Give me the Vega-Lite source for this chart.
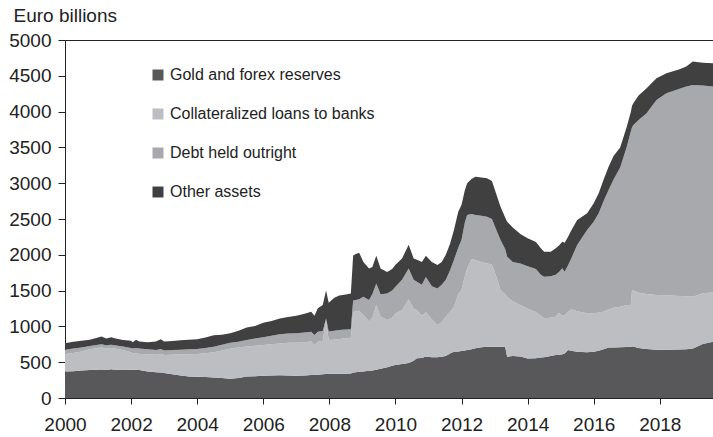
{
  "$schema": "https://vega.github.io/schema/vega-lite/v6.json",
  "width": 650,
  "height": 358,
  "autosize": {"type": "none"},
  "padding": {"left": 65, "top": 40, "right": 0, "bottom": 39},
  "data": {
    "values": [
      {"year": 2000.00, "Gold and forex reserves": 370, "Collateralized loans to banks": 245, "Debt held outright": 60, "Other assets": 90},
      {"year": 2000.25, "Gold and forex reserves": 375, "Collateralized loans to banks": 255, "Debt held outright": 60, "Other assets": 95},
      {"year": 2000.50, "Gold and forex reserves": 385, "Collateralized loans to banks": 265, "Debt held outright": 55, "Other assets": 95},
      {"year": 2000.75, "Gold and forex reserves": 390, "Collateralized loans to banks": 290, "Debt held outright": 45, "Other assets": 90},
      {"year": 2001.00, "Gold and forex reserves": 395, "Collateralized loans to banks": 305, "Debt held outright": 45, "Other assets": 100},
      {"year": 2001.10, "Gold and forex reserves": 398, "Collateralized loans to banks": 307, "Debt held outright": 45, "Other assets": 110},
      {"year": 2001.25, "Gold and forex reserves": 390, "Collateralized loans to banks": 300, "Debt held outright": 45, "Other assets": 95},
      {"year": 2001.40, "Gold and forex reserves": 400, "Collateralized loans to banks": 300, "Debt held outright": 45, "Other assets": 105},
      {"year": 2001.50, "Gold and forex reserves": 395, "Collateralized loans to banks": 295, "Debt held outright": 45, "Other assets": 100},
      {"year": 2001.75, "Gold and forex reserves": 392, "Collateralized loans to banks": 278, "Debt held outright": 50, "Other assets": 90},
      {"year": 2002.00, "Gold and forex reserves": 395, "Collateralized loans to banks": 245, "Debt held outright": 60, "Other assets": 100},
      {"year": 2002.05, "Gold and forex reserves": 395, "Collateralized loans to banks": 225, "Debt held outright": 70, "Other assets": 90},
      {"year": 2002.15, "Gold and forex reserves": 392, "Collateralized loans to banks": 238, "Debt held outright": 70, "Other assets": 115},
      {"year": 2002.25, "Gold and forex reserves": 390, "Collateralized loans to banks": 225, "Debt held outright": 75, "Other assets": 100},
      {"year": 2002.50, "Gold and forex reserves": 370, "Collateralized loans to banks": 240, "Debt held outright": 70, "Other assets": 100},
      {"year": 2002.75, "Gold and forex reserves": 360, "Collateralized loans to banks": 245, "Debt held outright": 65, "Other assets": 120},
      {"year": 2002.90, "Gold and forex reserves": 355, "Collateralized loans to banks": 260, "Debt held outright": 70, "Other assets": 135},
      {"year": 2003.00, "Gold and forex reserves": 350, "Collateralized loans to banks": 250, "Debt held outright": 65, "Other assets": 125},
      {"year": 2003.25, "Gold and forex reserves": 330, "Collateralized loans to banks": 275, "Debt held outright": 65, "Other assets": 125},
      {"year": 2003.50, "Gold and forex reserves": 315, "Collateralized loans to banks": 295, "Debt held outright": 65, "Other assets": 130},
      {"year": 2003.75, "Gold and forex reserves": 300, "Collateralized loans to banks": 312, "Debt held outright": 68, "Other assets": 135},
      {"year": 2004.00, "Gold and forex reserves": 298, "Collateralized loans to banks": 317, "Debt held outright": 70, "Other assets": 135},
      {"year": 2004.25, "Gold and forex reserves": 292, "Collateralized loans to banks": 333, "Debt held outright": 75, "Other assets": 145},
      {"year": 2004.50, "Gold and forex reserves": 285, "Collateralized loans to banks": 355, "Debt held outright": 75, "Other assets": 160},
      {"year": 2004.75, "Gold and forex reserves": 278, "Collateralized loans to banks": 387, "Debt held outright": 80, "Other assets": 140},
      {"year": 2005.00, "Gold and forex reserves": 270, "Collateralized loans to banks": 420, "Debt held outright": 80, "Other assets": 135},
      {"year": 2005.25, "Gold and forex reserves": 280, "Collateralized loans to banks": 425, "Debt held outright": 80, "Other assets": 155},
      {"year": 2005.50, "Gold and forex reserves": 300, "Collateralized loans to banks": 420, "Debt held outright": 90, "Other assets": 175},
      {"year": 2005.75, "Gold and forex reserves": 305, "Collateralized loans to banks": 425, "Debt held outright": 100, "Other assets": 175},
      {"year": 2006.00, "Gold and forex reserves": 310, "Collateralized loans to banks": 430, "Debt held outright": 108, "Other assets": 202},
      {"year": 2006.25, "Gold and forex reserves": 315, "Collateralized loans to banks": 435, "Debt held outright": 120, "Other assets": 205},
      {"year": 2006.50, "Gold and forex reserves": 318, "Collateralized loans to banks": 442, "Debt held outright": 130, "Other assets": 220},
      {"year": 2006.75, "Gold and forex reserves": 315, "Collateralized loans to banks": 455, "Debt held outright": 130, "Other assets": 230},
      {"year": 2007.00, "Gold and forex reserves": 312, "Collateralized loans to banks": 461, "Debt held outright": 132, "Other assets": 245},
      {"year": 2007.25, "Gold and forex reserves": 315, "Collateralized loans to banks": 465, "Debt held outright": 135, "Other assets": 260},
      {"year": 2007.45, "Gold and forex reserves": 320, "Collateralized loans to banks": 470, "Debt held outright": 135, "Other assets": 280},
      {"year": 2007.55, "Gold and forex reserves": 320, "Collateralized loans to banks": 420, "Debt held outright": 140, "Other assets": 270},
      {"year": 2007.65, "Gold and forex reserves": 325, "Collateralized loans to banks": 460, "Debt held outright": 140, "Other assets": 330},
      {"year": 2007.80, "Gold and forex reserves": 330, "Collateralized loans to banks": 470, "Debt held outright": 135, "Other assets": 365},
      {"year": 2007.90, "Gold and forex reserves": 335, "Collateralized loans to banks": 755, "Debt held outright": 20, "Other assets": 390},
      {"year": 2007.98, "Gold and forex reserves": 338, "Collateralized loans to banks": 472, "Debt held outright": 120, "Other assets": 400},
      {"year": 2008.15, "Gold and forex reserves": 340, "Collateralized loans to banks": 475, "Debt held outright": 125, "Other assets": 460},
      {"year": 2008.30, "Gold and forex reserves": 340, "Collateralized loans to banks": 485, "Debt held outright": 125, "Other assets": 480},
      {"year": 2008.50, "Gold and forex reserves": 340, "Collateralized loans to banks": 495, "Debt held outright": 120, "Other assets": 490},
      {"year": 2008.65, "Gold and forex reserves": 342, "Collateralized loans to banks": 498, "Debt held outright": 120, "Other assets": 500},
      {"year": 2008.72, "Gold and forex reserves": 355, "Collateralized loans to banks": 845, "Debt held outright": 160, "Other assets": 630},
      {"year": 2008.80, "Gold and forex reserves": 360, "Collateralized loans to banks": 850, "Debt held outright": 160, "Other assets": 640},
      {"year": 2008.90, "Gold and forex reserves": 365, "Collateralized loans to banks": 855, "Debt held outright": 160, "Other assets": 650},
      {"year": 2009.03, "Gold and forex reserves": 370, "Collateralized loans to banks": 790, "Debt held outright": 255, "Other assets": 485},
      {"year": 2009.20, "Gold and forex reserves": 380, "Collateralized loans to banks": 690, "Debt held outright": 300, "Other assets": 440},
      {"year": 2009.30, "Gold and forex reserves": 385, "Collateralized loans to banks": 735, "Debt held outright": 330, "Other assets": 380},
      {"year": 2009.42, "Gold and forex reserves": 395, "Collateralized loans to banks": 905, "Debt held outright": 300, "Other assets": 385},
      {"year": 2009.55, "Gold and forex reserves": 410, "Collateralized loans to banks": 730, "Debt held outright": 310, "Other assets": 360},
      {"year": 2009.75, "Gold and forex reserves": 430, "Collateralized loans to banks": 660, "Debt held outright": 370, "Other assets": 300},
      {"year": 2009.90, "Gold and forex reserves": 450, "Collateralized loans to banks": 670, "Debt held outright": 380, "Other assets": 300},
      {"year": 2010.00, "Gold and forex reserves": 460, "Collateralized loans to banks": 720, "Debt held outright": 375, "Other assets": 305},
      {"year": 2010.20, "Gold and forex reserves": 475, "Collateralized loans to banks": 755, "Debt held outright": 420, "Other assets": 300},
      {"year": 2010.40, "Gold and forex reserves": 490, "Collateralized loans to banks": 890, "Debt held outright": 430, "Other assets": 330},
      {"year": 2010.55, "Gold and forex reserves": 520, "Collateralized loans to banks": 730, "Debt held outright": 400, "Other assets": 300},
      {"year": 2010.65, "Gold and forex reserves": 555, "Collateralized loans to banks": 675, "Debt held outright": 395, "Other assets": 305},
      {"year": 2010.80, "Gold and forex reserves": 560, "Collateralized loans to banks": 590, "Debt held outright": 430, "Other assets": 320},
      {"year": 2010.92, "Gold and forex reserves": 580, "Collateralized loans to banks": 620, "Debt held outright": 490, "Other assets": 295},
      {"year": 2011.10, "Gold and forex reserves": 570, "Collateralized loans to banks": 530, "Debt held outright": 460, "Other assets": 340},
      {"year": 2011.27, "Gold and forex reserves": 568, "Collateralized loans to banks": 452, "Debt held outright": 510, "Other assets": 327},
      {"year": 2011.40, "Gold and forex reserves": 575, "Collateralized loans to banks": 485, "Debt held outright": 520, "Other assets": 320},
      {"year": 2011.52, "Gold and forex reserves": 585, "Collateralized loans to banks": 551, "Debt held outright": 512, "Other assets": 349},
      {"year": 2011.65, "Gold and forex reserves": 620, "Collateralized loans to banks": 580, "Debt held outright": 580, "Other assets": 370},
      {"year": 2011.77, "Gold and forex reserves": 647, "Collateralized loans to banks": 629, "Debt held outright": 651, "Other assets": 419},
      {"year": 2011.90, "Gold and forex reserves": 650, "Collateralized loans to banks": 800, "Debt held outright": 650, "Other assets": 500},
      {"year": 2012.00, "Gold and forex reserves": 655, "Collateralized loans to banks": 855, "Debt held outright": 700, "Other assets": 490},
      {"year": 2012.10, "Gold and forex reserves": 665, "Collateralized loans to banks": 1035, "Debt held outright": 750, "Other assets": 450},
      {"year": 2012.17, "Gold and forex reserves": 670, "Collateralized loans to banks": 1141, "Debt held outright": 745, "Other assets": 442},
      {"year": 2012.30, "Gold and forex reserves": 680, "Collateralized loans to banks": 1260, "Debt held outright": 630, "Other assets": 490},
      {"year": 2012.42, "Gold and forex reserves": 694, "Collateralized loans to banks": 1233, "Debt held outright": 629, "Other assets": 535},
      {"year": 2012.60, "Gold and forex reserves": 710, "Collateralized loans to banks": 1190, "Debt held outright": 645, "Other assets": 535},
      {"year": 2012.77, "Gold and forex reserves": 717, "Collateralized loans to banks": 1164, "Debt held outright": 652, "Other assets": 535},
      {"year": 2012.92, "Gold and forex reserves": 715, "Collateralized loans to banks": 1145, "Debt held outright": 640, "Other assets": 530},
      {"year": 2013.05, "Gold and forex reserves": 715, "Collateralized loans to banks": 985, "Debt held outright": 650, "Other assets": 500},
      {"year": 2013.18, "Gold and forex reserves": 715, "Collateralized loans to banks": 793, "Debt held outright": 699, "Other assets": 465},
      {"year": 2013.32, "Gold and forex reserves": 715, "Collateralized loans to banks": 735, "Debt held outright": 630, "Other assets": 440},
      {"year": 2013.38, "Gold and forex reserves": 577, "Collateralized loans to banks": 838, "Debt held outright": 559, "Other assets": 488},
      {"year": 2013.55, "Gold and forex reserves": 585, "Collateralized loans to banks": 765, "Debt held outright": 550, "Other assets": 480},
      {"year": 2013.78, "Gold and forex reserves": 580, "Collateralized loans to banks": 720, "Debt held outright": 580, "Other assets": 410},
      {"year": 2014.00, "Gold and forex reserves": 550, "Collateralized loans to banks": 700, "Debt held outright": 590, "Other assets": 390},
      {"year": 2014.25, "Gold and forex reserves": 555, "Collateralized loans to banks": 645, "Debt held outright": 600, "Other assets": 380},
      {"year": 2014.40, "Gold and forex reserves": 565, "Collateralized loans to banks": 585, "Debt held outright": 570, "Other assets": 370},
      {"year": 2014.50, "Gold and forex reserves": 570, "Collateralized loans to banks": 543, "Debt held outright": 581, "Other assets": 350},
      {"year": 2014.70, "Gold and forex reserves": 585, "Collateralized loans to banks": 535, "Debt held outright": 580, "Other assets": 344},
      {"year": 2014.85, "Gold and forex reserves": 600, "Collateralized loans to banks": 536, "Debt held outright": 584, "Other assets": 370},
      {"year": 2014.95, "Gold and forex reserves": 602, "Collateralized loans to banks": 588, "Debt held outright": 570, "Other assets": 370},
      {"year": 2015.05, "Gold and forex reserves": 610, "Collateralized loans to banks": 540, "Debt held outright": 661, "Other assets": 372},
      {"year": 2015.12, "Gold and forex reserves": 620, "Collateralized loans to banks": 540, "Debt held outright": 604, "Other assets": 406},
      {"year": 2015.22, "Gold and forex reserves": 670, "Collateralized loans to banks": 530, "Debt held outright": 650, "Other assets": 400},
      {"year": 2015.32, "Gold and forex reserves": 660, "Collateralized loans to banks": 578, "Debt held outright": 712, "Other assets": 390},
      {"year": 2015.50, "Gold and forex reserves": 645, "Collateralized loans to banks": 565, "Debt held outright": 926, "Other assets": 350},
      {"year": 2015.80, "Gold and forex reserves": 640, "Collateralized loans to banks": 543, "Debt held outright": 1163, "Other assets": 233},
      {"year": 2016.00, "Gold and forex reserves": 645, "Collateralized loans to banks": 540, "Debt held outright": 1275, "Other assets": 260},
      {"year": 2016.15, "Gold and forex reserves": 660, "Collateralized loans to banks": 535, "Debt held outright": 1384, "Other assets": 279},
      {"year": 2016.30, "Gold and forex reserves": 680, "Collateralized loans to banks": 526, "Debt held outright": 1544, "Other assets": 300},
      {"year": 2016.45, "Gold and forex reserves": 705, "Collateralized loans to banks": 535, "Debt held outright": 1665, "Other assets": 326},
      {"year": 2016.60, "Gold and forex reserves": 707, "Collateralized loans to banks": 553, "Debt held outright": 1790, "Other assets": 330},
      {"year": 2016.80, "Gold and forex reserves": 710, "Collateralized loans to banks": 566, "Debt held outright": 1944, "Other assets": 280},
      {"year": 2017.00, "Gold and forex reserves": 712, "Collateralized loans to banks": 587, "Debt held outright": 2211, "Other assets": 280},
      {"year": 2017.12, "Gold and forex reserves": 715, "Collateralized loans to banks": 585, "Debt held outright": 2420, "Other assets": 270},
      {"year": 2017.16, "Gold and forex reserves": 718, "Collateralized loans to banks": 791, "Debt held outright": 2271, "Other assets": 300},
      {"year": 2017.20, "Gold and forex reserves": 718, "Collateralized loans to banks": 782, "Debt held outright": 2313, "Other assets": 303},
      {"year": 2017.35, "Gold and forex reserves": 700, "Collateralized loans to banks": 770, "Debt held outright": 2410, "Other assets": 340},
      {"year": 2017.60, "Gold and forex reserves": 684, "Collateralized loans to banks": 769, "Debt held outright": 2523, "Other assets": 349},
      {"year": 2017.90, "Gold and forex reserves": 675, "Collateralized loans to banks": 764, "Debt held outright": 2723, "Other assets": 303},
      {"year": 2018.20, "Gold and forex reserves": 675, "Collateralized loans to banks": 760, "Debt held outright": 2820, "Other assets": 280},
      {"year": 2018.60, "Gold and forex reserves": 678, "Collateralized loans to banks": 747, "Debt held outright": 2895, "Other assets": 270},
      {"year": 2018.80, "Gold and forex reserves": 682, "Collateralized loans to banks": 738, "Debt held outright": 2930, "Other assets": 280},
      {"year": 2019.00, "Gold and forex reserves": 690, "Collateralized loans to banks": 725, "Debt held outright": 2957, "Other assets": 326},
      {"year": 2019.30, "Gold and forex reserves": 755, "Collateralized loans to banks": 707, "Debt held outright": 2903, "Other assets": 319},
      {"year": 2019.67, "Gold and forex reserves": 790, "Collateralized loans to banks": 686, "Debt held outright": 2872, "Other assets": 327}
    ]
  },
  "transform": [
    {"fold": ["Gold and forex reserves", "Collateralized loans to banks", "Debt held outright", "Other assets"], "as": ["series", "value"]},
    {"stack": "value", "groupby": ["year"], "as": ["v0", "v1"]}
  ],
  "mark": {"type": "area", "interpolate": "linear"},
  "encoding": {
    "x": {
      "field": "year",
      "type": "quantitative",
      "scale": {"domain": [2000, 2019.67], "nice": false, "zero": false},
      "axis": {
        "values": [2000, 2002, 2004, 2006, 2008, 2010, 2012, 2014, 2016, 2018],
        "format": "d",
        "title": null,
        "grid": false,
        "labelFontSize": 19,
        "labelColor": "#222",
        "labelPadding": 11,
        "tickSize": 6,
        "tickColor": "#222",
        "domainColor": "#222",
        "labelFlush": false,
        "labelOverlap": false
      }
    },
    "y": {
      "field": "v0",
      "type": "quantitative",
      "scale": {"domain": [0, 5000], "nice": false},
      "axis": {
        "values": [0, 500, 1000, 1500, 2000, 2500, 3000, 3500, 4000, 4500, 5000],
        "format": "d",
        "title": "Euro billions",
        "titleAngle": 0,
        "titleFontSize": 19,
        "titleFontWeight": "normal",
        "titleColor": "#222",
        "titleAlign": "left",
        "titleBaseline": "alphabetic",
        "titleX": -52,
        "titleY": -19,
        "grid": false,
        "labelFontSize": 19,
        "labelColor": "#222",
        "labelPadding": 7,
        "tickSize": 7,
        "tickColor": "#222",
        "domainColor": "#222",
        "labelFlush": false,
        "labelOverlap": false
      }
    },
    "y2": {"field": "v1"},
    "color": {
      "field": "series",
      "type": "nominal",
      "scale": {
        "domain": ["Gold and forex reserves", "Collateralized loans to banks", "Debt held outright", "Other assets"],
        "range": ["#58585a", "#bdbec1", "#a8a9ac", "#404040"]
      },
      "legend": {
        "orient": "none",
        "legendX": 85,
        "legendY": 27,
        "title": null,
        "padding": 0,
        "symbolType": "square",
        "symbolSize": 121,
        "symbolStrokeWidth": 0,
        "symbolOpacity": 1,
        "labelFontSize": 16,
        "labelColor": "#222",
        "labelOffset": 4,
        "rowPadding": 23,
        "labelLimit": 400
      }
    }
  },
  "config": {
    "font": "Liberation Sans",
    "view": {"stroke": "#222", "strokeWidth": 1}
  }
}
